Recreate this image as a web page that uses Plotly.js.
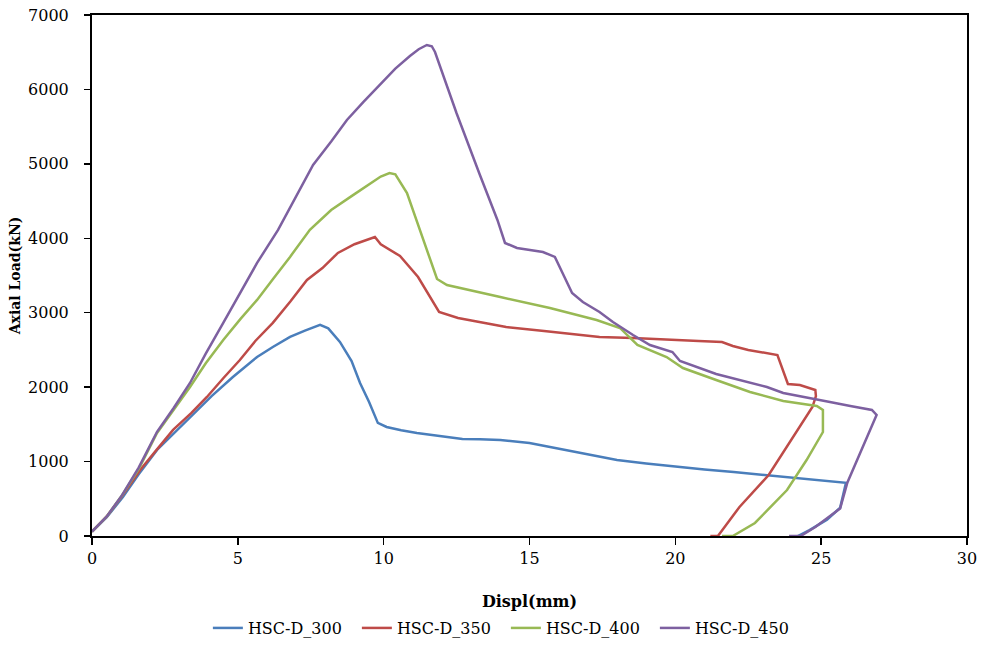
<!DOCTYPE html>
<html>
<head>
<meta charset="utf-8">
<script src="https://cdn.plot.ly/plotly-3.0.1.min.js"></script>
<style>html,body{margin:0;padding:0;background:#fff;}#chart{width:989px;height:651px;}</style>
</head>
<body>
<div id="chart"></div>
<script>
const seriesNames = ["HSC-D_300", "HSC-D_350", "HSC-D_400", "HSC-D_450"];
const seriesColors = ["#4A7EBB", "#BE4B48", "#98B954", "#7D60A0"];

const x300 = [0,0.5,1.06,1.6,2.23,2.8,3.36,4.1,4.83,5.3,5.66,6.2,6.79,7.3,7.82,8.1,8.5,8.9,9.19,9.5,9.8,10.1,10.6,11.14,11.93,12.7,13.3,14,15,16,17,18,19,20,21,22,23,24,25,25.5,25.85,25.65,25.2,24.6,24.2];
const y300 = [60,250,524,830,1156,1380,1600,1880,2137,2290,2406,2540,2675,2760,2836,2790,2608,2350,2056,1800,1519,1465,1420,1384,1344,1304,1300,1290,1250,1170,1090,1020,975,930,895,860,820,780,750,730,715,380,220,80,0];

const x350 = [0,0.5,1.0,1.65,2.2,2.78,3.4,3.94,4.5,5.07,5.6,6.2,6.8,7.37,7.9,8.43,9.0,9.4,9.7,9.9,10.56,11.18,11.9,12.55,13.3,14.2,15.5,16.5,17.4,18.55,19.8,20.8,21.6,21.97,22.5,23.07,23.5,23.86,24.27,24.8,24.82,24.7,24.03,23.2,22.2,21.46,21.2];
const y350 = [60,260,520,887,1150,1425,1650,1868,2120,2365,2620,2863,3150,3440,3600,3803,3920,3980,4017,3920,3762,3480,3010,2929,2870,2808,2754,2710,2674,2660,2633,2620,2606,2553,2500,2459,2432,2042,2029,1962,1880,1733,1330,820,390,0,0];

const x400 = [0,0.5,1.0,1.6,2.23,2.8,3.36,3.9,4.5,5.1,5.66,6.2,6.79,7.47,8.2,8.95,9.5,9.9,10.2,10.4,10.8,11.3,11.83,12.17,13.3,14,15.7,17.3,18.1,18.7,19.7,20.26,21.4,22.56,23.7,24.85,25.06,25.06,24.5,23.83,22.73,21.97,21.6];
const y400 = [60,260,530,900,1384,1700,2003,2320,2634,2920,3172,3450,3750,4113,4380,4580,4720,4830,4877,4860,4608,4050,3453,3372,3278,3211,3063,2902,2795,2566,2405,2257,2096,1935,1814,1747,1693,1397,1021,618,175,0,0];

const x450 = [0,0.5,1.0,1.6,2.23,2.8,3.36,3.9,4.5,5.1,5.66,6.38,7.0,7.58,8.2,8.74,9.3,9.87,10.4,10.9,11.2,11.48,11.65,11.76,12.5,13.3,13.9,14.16,14.57,15.46,15.87,16.46,16.83,17.4,17.86,18.55,19.13,19.9,20.16,21.4,23.14,23.7,24.85,25.3,26,26.74,26.9,25.9,25.65,24.8,24.3,23.9];
const y450 = [60,260,530,920,1400,1720,2056,2450,2863,3270,3669,4113,4560,4985,5300,5589,5830,6060,6280,6450,6540,6597,6580,6503,5680,4850,4246,3937,3870,3816,3749,3265,3144,3010,2875,2700,2566,2472,2351,2177,2002,1921,1840,1800,1747,1693,1626,720,370,120,0,0];

const xs = [x300, x350, x400, x450];
const ys = [y300, y350, y400, y450];

const traces = seriesNames.map((n, i) => ({
  x: xs[i], y: ys[i], name: n, type: "scatter", mode: "lines",
  line: {color: seriesColors[i], width: 2.5}
}));

const font = "DejaVu Serif, serif";
const layout = {
  width: 989, height: 651,
  margin: {l: 92, r: 22, t: 15, b: 115},
  paper_bgcolor: "#fff", plot_bgcolor: "#fff",
  showlegend: true,
  legend: {orientation: "h", x: 0.473, xanchor: "center", yref: "container", y: 0.0353, yanchor: "middle",
           font: {family: font, size: 16, color: "#000"}, itemwidth: 30, entrywidth: 104},
  xaxis: {
    range: [0, 30], tickvals: [0,5,10,15,20,25,30], ticks: "outside", ticklen: 7, tickwidth: 1.5,
    tickcolor: "#000", showline: true, linecolor: "#000", linewidth: 2, mirror: true,
    showgrid: false, zeroline: false,
    tickfont: {family: font, size: 16, color: "#000"},
    title: {text: "Displ(mm)", font: {family: font, size: 16, color: "#000", weight: "bold"}, standoff: 30}
  },
  yaxis: {
    range: [0, 7000], tickvals: [0,1000,2000,3000,4000,5000,6000,7000], ticks: "outside", ticklen: 6, tickwidth: 1.5,
    tickcolor: "#000", showline: true, linecolor: "#000", linewidth: 2, mirror: true,
    showgrid: false, zeroline: false, ticklabelstandoff: 12,
    tickfont: {family: font, size: 16, color: "#000"},
    title: {text: "Axial Load(kN)", font: {family: font, size: 14, color: "#000", weight: "bold"}, standoff: 4}
  }
};

Plotly.newPlot("chart", traces, layout, {displayModeBar: false, staticPlot: true});
</script>
</body>
</html>
